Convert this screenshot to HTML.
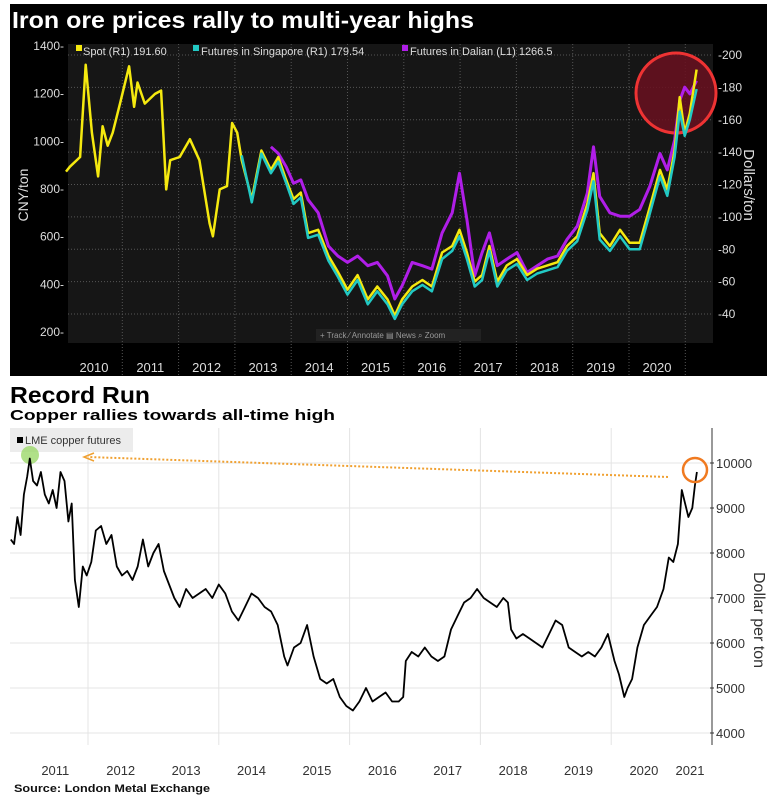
<!DOCTYPE html>
<html><head><meta charset="utf-8"><style>
body{margin:0;background:#fff;width:777px;height:800px;overflow:hidden;font-family:"Liberation Sans",sans-serif}
svg{display:block}
</style></head><body>
<svg id="c" width="777" height="800" xmlns="http://www.w3.org/2000/svg">
<rect x="0" y="0" width="777" height="800" fill="#fff"/>
<rect x="10" y="4" width="757" height="372" fill="#000"/>
<rect x="68" y="44" width="645" height="299" fill="#161616"/>
<text x="12" y="28" fill="#fff" font-size="23" font-weight="bold" textLength="462" lengthAdjust="spacingAndGlyphs">Iron ore prices rally to multi-year highs</text>
<g id="topGrid"></g>
<g id="topAxes" font-size="12" fill="#ddd"></g>
<text transform="translate(28,195) rotate(-90)" text-anchor="middle" fill="#ddd" font-size="14">CNY/ton</text>
<text transform="translate(744,185) rotate(90)" text-anchor="middle" fill="#ddd" font-size="15">Dollars/ton</text>
<g font-size="11" fill="#ddd">
<rect x="76" y="45" width="6" height="6" fill="#f5e90f"/><text x="83" y="55">Spot (R1) 191.60</text>
<rect x="193" y="45" width="6" height="6" fill="#22c9c4"/><text x="201" y="55">Futures in Singapore (R1) 179.54</text>
<rect x="402" y="45" width="6" height="6" fill="#b01ee8"/><text x="410" y="55">Futures in Dalian (L1) 1266.5</text>
</g>
<circle cx="676" cy="93" r="40" fill="#6a1020" fill-opacity="0.85" stroke="#e33" stroke-width="3"/>
<g id="topSeries"></g>
<g font-size="8" fill="#999"><rect x="316" y="329" width="165" height="12" fill="#222"/><text x="320" y="338">+ Track   ⁄ Annotate   ▤ News   ⌕ Zoom</text></g>

<text x="10" y="403" font-size="23" font-weight="bold" fill="#000" textLength="140" lengthAdjust="spacingAndGlyphs">Record Run</text>
<text x="10" y="420" font-size="15" font-weight="bold" fill="#000" textLength="325" lengthAdjust="spacingAndGlyphs">Copper rallies towards all-time high</text>
<g id="botGrid"></g>
<rect x="10" y="428" width="123" height="24" fill="#ececec"/>
<rect x="17" y="437" width="6" height="6" fill="#000"/>
<text x="25" y="444" font-size="11" fill="#333">LME copper futures</text>
<circle cx="30" cy="455" r="9" fill="#9cd86a" fill-opacity="0.8"/>
<g id="botAxes" font-size="13" fill="#333"></g>
<text transform="translate(754,620) rotate(90)" text-anchor="middle" fill="#333" font-size="16">Dollar per ton</text>
<g id="botSeries"></g>
<line x1="668" y1="477" x2="88" y2="457" stroke="#f0a030" stroke-width="2" stroke-dasharray="2,2"/>
<path d="M94,453 L84,457 L94,461" fill="none" stroke="#f0a030" stroke-width="1.5"/>
<circle cx="695" cy="470" r="12" fill="none" stroke="#f07a20" stroke-width="2.5"/>
<text x="14" y="792" font-size="11" font-weight="bold" fill="#111" textLength="196" lengthAdjust="spacingAndGlyphs">Source: London Metal Exchange</text>
</svg>
<script>
const ironYears=["2010","2011","2012","2013","2014","2015","2016","2017","2018","2019","2020"];
const leftTicks=[200,400,600,800,1000,1200,1400];
const rightTicks=[40,60,80,100,120,140,160,180,200];
const spotT=[2010.0,2010.07,2010.25,2010.35,2010.46,2010.57,2010.65,2010.74,2010.83,2010.96,2011.12,2011.21,2011.27,2011.4,2011.58,2011.69,2011.78,2011.85,2012.02,2012.2,2012.37,2012.55,2012.61,2012.73,2012.86,2012.95,2013.04,2013.12,2013.3,2013.47,2013.64,2013.77,2013.91,2014.04,2014.17,2014.3,2014.48,2014.66,2014.83,2015.0,2015.18,2015.36,2015.53,2015.71,2015.84,2015.97,2016.15,2016.33,2016.5,2016.68,2016.86,2016.99,2017.12,2017.26,2017.39,2017.52,2017.66,2017.83,2018.01,2018.19,2018.37,2018.55,2018.73,2018.9,2019.08,2019.26,2019.37,2019.48,2019.66,2019.84,2020.01,2020.19,2020.37,2020.55,2020.68,2020.81,2020.9,2020.99,2021.08,2021.2];
const spotV=[128,131,137,194,152,125,156,144,152,170,193,168,183,170,176,178,117,135,137,148,135,96,88,117,119,158,152,135,111,141,129,137,123,111,115,90,92,76,66,55,64,49,57,49,39,49,57,61,57,78,82,92,78,60,64,82,60,70,74,64,68,70,72,82,88,108,127,90,82,92,84,84,106,129,117,141,174,152,164,191];
const sgT=[2013.12,2013.3,2013.47,2013.64,2013.77,2013.91,2014.04,2014.17,2014.3,2014.48,2014.66,2014.83,2015.0,2015.18,2015.36,2015.53,2015.71,2015.84,2015.97,2016.15,2016.33,2016.5,2016.68,2016.86,2016.99,2017.12,2017.26,2017.39,2017.52,2017.66,2017.83,2018.01,2018.19,2018.37,2018.55,2018.73,2018.9,2019.08,2019.26,2019.37,2019.48,2019.66,2019.84,2020.01,2020.19,2020.37,2020.55,2020.68,2020.81,2020.9,2020.99,2021.08,2021.2];
const sgV=[138,109,139,127,134,121,108,112,87,89,73,63,52,61,46,54,46,37,46,54,58,54,74,79,88,74,57,61,79,57,67,71,61,65,67,69,79,85,104,122,86,79,88,80,80,102,125,113,137,165,150,160,179];
const dlT=[2013.64,2013.77,2013.91,2014.04,2014.17,2014.3,2014.48,2014.66,2014.83,2015.0,2015.18,2015.36,2015.53,2015.71,2015.84,2015.97,2016.15,2016.33,2016.5,2016.68,2016.86,2016.99,2017.12,2017.26,2017.39,2017.52,2017.66,2017.83,2018.01,2018.19,2018.37,2018.55,2018.73,2018.9,2019.08,2019.26,2019.37,2019.48,2019.66,2019.84,2020.01,2020.19,2020.37,2020.55,2020.68,2020.81,2020.9,2020.99,2021.08,2021.2];
const dlV=[977,949,894,824,838,755,700,561,519,492,519,478,492,436,339,394,492,478,464,616,700,866,672,436,533,616,478,506,533,450,478,506,519,589,644,783,977,769,700,686,686,714,811,949,880,1005,1171,1227,1199,1254];

const copperYears=["2011","2012","2013","2014","2015","2016","2017","2018","2019","2020","2021"];
const copperTicks=[4000,5000,6000,7000,8000,9000,10000];
const cuT=[2010.82,2010.87,2010.92,2010.97,2011.02,2011.07,2011.11,2011.16,2011.22,2011.28,2011.34,2011.4,2011.46,2011.52,2011.58,2011.64,2011.7,2011.75,2011.8,2011.86,2011.92,2011.98,2012.05,2012.12,2012.2,2012.28,2012.36,2012.44,2012.52,2012.6,2012.68,2012.76,2012.84,2012.92,2013.0,2013.08,2013.16,2013.24,2013.32,2013.4,2013.5,2013.6,2013.7,2013.8,2013.9,2014.0,2014.1,2014.2,2014.3,2014.4,2014.5,2014.6,2014.7,2014.8,2014.9,2015.0,2015.05,2015.15,2015.25,2015.35,2015.45,2015.55,2015.65,2015.75,2015.85,2015.95,2016.05,2016.15,2016.25,2016.35,2016.45,2016.55,2016.65,2016.75,2016.82,2016.86,2016.95,2017.05,2017.15,2017.25,2017.35,2017.45,2017.55,2017.65,2017.75,2017.85,2017.95,2018.05,2018.15,2018.25,2018.35,2018.42,2018.47,2018.55,2018.65,2018.75,2018.85,2018.95,2019.05,2019.15,2019.25,2019.35,2019.45,2019.55,2019.65,2019.75,2019.85,2019.95,2020.05,2020.12,2020.2,2020.25,2020.32,2020.4,2020.5,2020.6,2020.7,2020.8,2020.88,2020.95,2021.02,2021.08,2021.13,2021.18,2021.24,2021.28,2021.31];
const cuV=[8300,8200,8800,8400,9300,9700,10100,9600,9500,9800,9300,9100,9400,9000,9800,9600,8700,9100,7400,6800,7700,7500,7800,8500,8600,8200,8400,7700,7500,7600,7400,7700,8300,7700,8000,8200,7600,7300,7000,6800,7200,7000,7100,7200,7000,7300,7100,6700,6500,6800,7100,7000,6800,6700,6400,5700,5500,5900,6000,6400,5700,5200,5100,5200,4800,4600,4500,4700,5000,4700,4800,4900,4700,4700,4800,5600,5800,5700,5900,5700,5600,5700,6300,6600,6900,7000,7200,7000,6900,6800,7000,6900,6300,6100,6200,6100,6000,5900,6200,6500,6400,5900,5800,5700,5800,5700,5900,6200,5600,5300,4800,5000,5200,5900,6400,6600,6800,7200,7900,7800,8200,9400,9100,8800,9000,9500,9800];

const NS="http://www.w3.org/2000/svg";
function mk(parent,tag,attrs){const e=document.createElementNS(NS,tag);for(const k in attrs)e.setAttribute(k,attrs[k]);document.getElementById(parent).appendChild(e);return e;}
const tx=t=>66+(t-2010)*56.3;
const ly=v=>332-(v-200)*(286/1200);
const ry=v=>314-(v-40)*(259/160);
rightTicks.forEach(v=>{
  const g=mk('topGrid','line',{x1:68,x2:713,y1:ry(v),y2:ry(v),stroke:'#555','stroke-dasharray':'1,2','stroke-width':1});
  
  
  const t=mk('topAxes','text',{x:718,y:ry(v)+4});t.textContent='-'+v;
  
  
});
leftTicks.forEach(v=>{
  const t=mk('topAxes','text',{x:64,y:ly(v)+4,'text-anchor':'end'});t.textContent=v+'-';
  
  
});
ironYears.forEach((y,i)=>{
  const x0=tx(2010+i);
  const l=mk('topGrid','line',{x1:x0+56.3,x2:x0+56.3,y1:44,y2:375,stroke:'#555','stroke-dasharray':'1,2'});
  
  
  const t=mk('topAxes','text',{x:x0+28,y:372,'text-anchor':'middle','font-size':13});t.textContent=y;
  
  
});
function poly(parent,T,V,fx,fy,color,w,name){
  const p=mk(parent,'polyline',{points:T.map((t,i)=>fx(t).toFixed(1)+','+fy(V[i]).toFixed(1)).join(' '),fill:'none',stroke:color,'stroke-width':w,'stroke-linejoin':'round'});
  
  
}
poly('topSeries',dlT,dlV,tx,ly,'#b01ee8',3,'dalian-line');
poly('topSeries',spotT,spotV,tx,ry,'#f5e90f',2.5,'spot-line');
poly('topSeries',sgT,sgV,tx,ry,'#22c9c4',2.5,'singapore-line');
const bx=t=>88+(t-2012)*65.4;
const by=v=>463-(v-10000)*0.045;
copperTicks.forEach(v=>{
  const g=mk('botGrid','line',{x1:10,x2:710,y1:by(v),y2:by(v),stroke:'#e4e4e4','stroke-width':1});
  
  
  const t=mk('botAxes','text',{x:716,y:by(v)+5});t.textContent=v;
  
  
  mk('botAxes','line',{x1:710,x2:714,y1:by(v),y2:by(v),stroke:'#333'});
});
[2012,2014,2016,2018,2020].forEach(yr=>{
  const l=mk('botGrid','line',{x1:bx(yr),x2:bx(yr),y1:428,y2:745,stroke:'#e4e4e4'});
  
  
});
mk('botAxes','line',{x1:712,x2:712,y1:428,y2:745,stroke:'#333','stroke-width':1});
copperYears.forEach((y,i)=>{
  const t=mk('botAxes','text',{x:i<10?bx(2011.5+i):690,y:775,'text-anchor':'middle'});t.textContent=y;
  
  
});
poly('botSeries',cuT,cuV,bx,by,'#000',1.8,'copper-line');
</script>
</body></html>
